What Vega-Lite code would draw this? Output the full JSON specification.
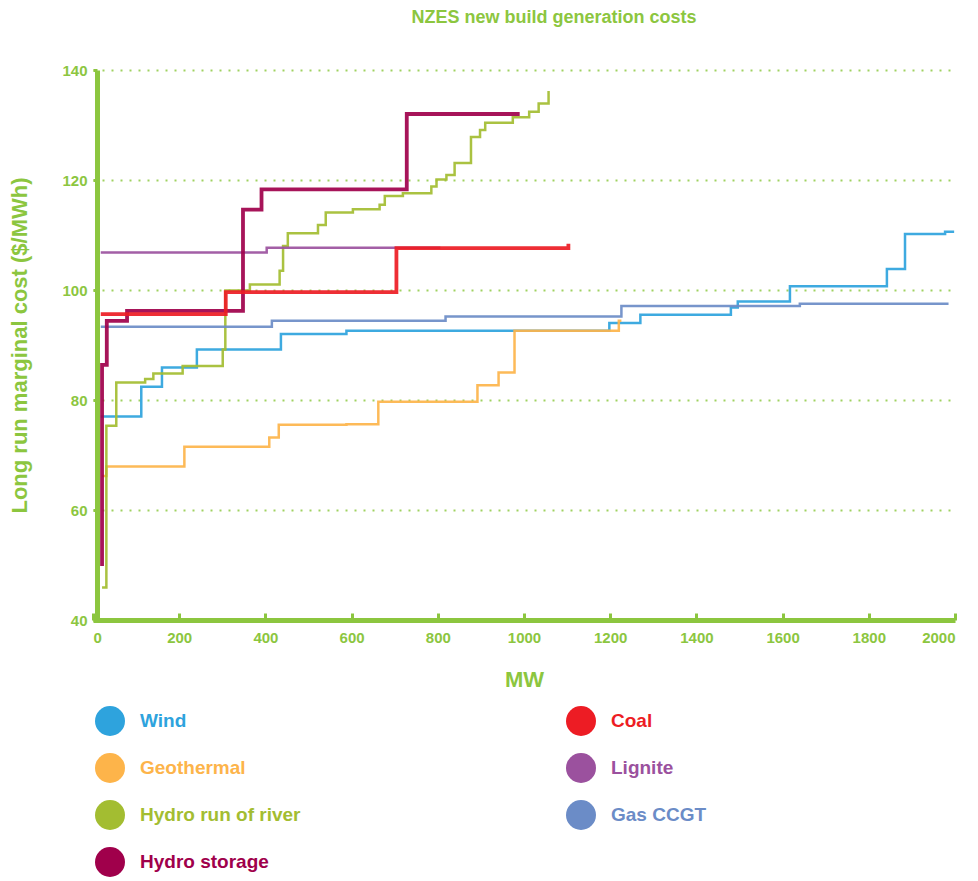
{
  "$schema": "https://vega.github.io/schema/vega-lite/v6.json",
  "width": 862,
  "height": 550,
  "autosize": "none",
  "padding": {"left": 93, "top": 70, "right": 23, "bottom": 261},
  "background": "white",
  "title": {
    "text": "NZES new build generation costs",
    "font": "Liberation Sans",
    "fontSize": 18,
    "fontWeight": "bold",
    "color": "#8cc63f",
    "anchor": "middle",
    "dx": 30,
    "offset": 36
  },
  "config": {
    "view": {"stroke": null},
    "font": "Liberation Sans"
  },
  "data": {
    "values": [
      {"series": "Wind", "mw": 18, "cost": 77.0},
      {"series": "Wind", "mw": 112, "cost": 82.4},
      {"series": "Wind", "mw": 160, "cost": 85.9},
      {"series": "Wind", "mw": 241, "cost": 89.2},
      {"series": "Wind", "mw": 436, "cost": 92.0},
      {"series": "Wind", "mw": 588, "cost": 92.6},
      {"series": "Wind", "mw": 1198, "cost": 94.0},
      {"series": "Wind", "mw": 1270, "cost": 95.5},
      {"series": "Wind", "mw": 1480, "cost": 96.8},
      {"series": "Wind", "mw": 1496, "cost": 97.9},
      {"series": "Wind", "mw": 1617, "cost": 100.7},
      {"series": "Wind", "mw": 1842, "cost": 103.8},
      {"series": "Wind", "mw": 1884, "cost": 110.2},
      {"series": "Wind", "mw": 1977, "cost": 110.6},
      {"series": "Wind", "mw": 1998, "cost": 110.6},

      {"series": "Geothermal", "mw": 21, "cost": 66.2},
      {"series": "Geothermal", "mw": 31, "cost": 67.9},
      {"series": "Geothermal", "mw": 212, "cost": 71.5},
      {"series": "Geothermal", "mw": 409, "cost": 73.2},
      {"series": "Geothermal", "mw": 431, "cost": 75.5},
      {"series": "Geothermal", "mw": 588, "cost": 75.6},
      {"series": "Geothermal", "mw": 662, "cost": 79.7},
      {"series": "Geothermal", "mw": 892, "cost": 82.7},
      {"series": "Geothermal", "mw": 941, "cost": 85.0},
      {"series": "Geothermal", "mw": 978, "cost": 92.6},
      {"series": "Geothermal", "mw": 1220, "cost": 94.4},
      {"series": "Geothermal", "mw": 1226, "cost": 94.4},

      {"series": "Hydro run of river", "mw": 21, "cost": 45.9},
      {"series": "Hydro run of river", "mw": 31, "cost": 75.3},
      {"series": "Hydro run of river", "mw": 54, "cost": 83.2},
      {"series": "Hydro run of river", "mw": 121, "cost": 83.8},
      {"series": "Hydro run of river", "mw": 140, "cost": 84.8},
      {"series": "Hydro run of river", "mw": 208, "cost": 86.2},
      {"series": "Hydro run of river", "mw": 301, "cost": 89.2},
      {"series": "Hydro run of river", "mw": 307, "cost": 99.9},
      {"series": "Hydro run of river", "mw": 364, "cost": 101.0},
      {"series": "Hydro run of river", "mw": 433, "cost": 103.5},
      {"series": "Hydro run of river", "mw": 441, "cost": 108.0},
      {"series": "Hydro run of river", "mw": 452, "cost": 110.3},
      {"series": "Hydro run of river", "mw": 522, "cost": 111.8},
      {"series": "Hydro run of river", "mw": 540, "cost": 114.1},
      {"series": "Hydro run of river", "mw": 603, "cost": 114.7},
      {"series": "Hydro run of river", "mw": 665, "cost": 115.5},
      {"series": "Hydro run of river", "mw": 677, "cost": 117.1},
      {"series": "Hydro run of river", "mw": 719, "cost": 117.6},
      {"series": "Hydro run of river", "mw": 785, "cost": 118.8},
      {"series": "Hydro run of river", "mw": 797, "cost": 120.1},
      {"series": "Hydro run of river", "mw": 820, "cost": 120.9},
      {"series": "Hydro run of river", "mw": 839, "cost": 123.1},
      {"series": "Hydro run of river", "mw": 877, "cost": 127.8},
      {"series": "Hydro run of river", "mw": 898, "cost": 129.1},
      {"series": "Hydro run of river", "mw": 910, "cost": 130.4},
      {"series": "Hydro run of river", "mw": 974, "cost": 131.4},
      {"series": "Hydro run of river", "mw": 1012, "cost": 132.4},
      {"series": "Hydro run of river", "mw": 1034, "cost": 133.9},
      {"series": "Hydro run of river", "mw": 1057, "cost": 136.2},

      {"series": "Hydro storage", "mw": 21, "cost": 49.8},
      {"series": "Hydro storage", "mw": 21, "cost": 86.4},
      {"series": "Hydro storage", "mw": 32, "cost": 94.4},
      {"series": "Hydro storage", "mw": 79, "cost": 96.2},
      {"series": "Hydro storage", "mw": 348, "cost": 114.6},
      {"series": "Hydro storage", "mw": 391, "cost": 118.3},
      {"series": "Hydro storage", "mw": 728, "cost": 132.0},
      {"series": "Hydro storage", "mw": 990, "cost": 132.0},

      {"series": "Coal", "mw": 18, "cost": 95.6},
      {"series": "Coal", "mw": 308, "cost": 99.6},
      {"series": "Coal", "mw": 704, "cost": 107.6},
      {"series": "Coal", "mw": 1103, "cost": 108.4},

      {"series": "Lignite", "mw": 18, "cost": 106.8},
      {"series": "Lignite", "mw": 403, "cost": 107.7},
      {"series": "Lignite", "mw": 806, "cost": 107.7},

      {"series": "Gas CCGT", "mw": 18, "cost": 93.3},
      {"series": "Gas CCGT", "mw": 415, "cost": 94.4},
      {"series": "Gas CCGT", "mw": 818, "cost": 95.2},
      {"series": "Gas CCGT", "mw": 1226, "cost": 97.1},
      {"series": "Gas CCGT", "mw": 1640, "cost": 97.5},
      {"series": "Gas CCGT", "mw": 1985, "cost": 97.5}
    ]
  },
  "encoding": {
    "x": {
      "field": "mw",
      "type": "quantitative",
      "scale": {"domain": [0, 2000], "nice": false, "zero": false},
      "axis": {
        "title": "MW",
        "format": "d",
        "values": [0, 200, 400, 600, 800, 1000, 1200, 1400, 1600, 1800, 2000],
        "grid": false,
        "domainColor": "#8cc63f",
        "domainWidth": 5,
        "tickColor": "#8cc63f",
        "tickWidth": 3,
        "tickSize": -7,
        "labelColor": "#8cc63f",
        "labelFont": "Liberation Sans",
        "labelFontSize": 15,
        "labelFontWeight": "bold",
        "labelPadding": 17,
        "titleColor": "#8cc63f",
        "titleFont": "Liberation Sans",
        "titleFontSize": 22,
        "titleFontWeight": "bold",
        "titlePadding": 24
      }
    },
    "y": {
      "field": "cost",
      "type": "quantitative",
      "scale": {"domain": [40, 140], "nice": false, "zero": false},
      "axis": {
        "title": "Long run marginal cost ($/MWh)",
        "values": [40, 60, 80, 100, 120, 140],
        "offset": -4,
        "grid": true,
        "gridColor": "#9fd160",
        "gridWidth": 2,
        "gridDash": [2, 7],
        "domainColor": "#8cc63f",
        "domainWidth": 5,
        "tickColor": "#8cc63f",
        "tickWidth": 3,
        "tickSize": 4,
        "labelColor": "#8cc63f",
        "labelFont": "Liberation Sans",
        "labelFontSize": 15,
        "labelFontWeight": "bold",
        "labelPadding": 6,
        "titleColor": "#8cc63f",
        "titleFont": "Liberation Sans",
        "titleFontSize": 22,
        "titleFontWeight": "bold",
        "titlePadding": 30
      }
    },
    "color": {
      "field": "series",
      "type": "nominal",
      "scale": {
        "domain": ["Wind", "Geothermal", "Hydro run of river", "Hydro storage", "Coal", "Lignite", "Gas CCGT"],
        "range": ["#2ea3dd", "#fdb44a", "#a3bd31", "#a0004b", "#ed1c24", "#9b519e", "#6b8cc7"]
      },
      "legend": {
        "orient": "none",
        "legendX": 2,
        "legendY": 636,
        "columns": 2,
        "columnPadding": 265,
        "rowPadding": 17,
        "padding": 0,
        "title": null,
        "symbolType": "circle",
        "symbolSize": 900,
        "symbolStrokeWidth": 0,
        "symbolOpacity": 1,
        "symbolFillColor": {"expr": "scale('color', datum.value)"},
        "labelColor": {"expr": "scale('color', datum.value)"},
        "labelFont": "Liberation Sans",
        "labelFontSize": 19,
        "labelFontWeight": "bold",
        "labelOffset": 15,
        "labelLimit": 300
      }
    }
  },
  "layer": [
    {
      "transform": [{"filter": "datum.series != 'Hydro storage' && datum.series != 'Coal'"}],
      "mark": {"type": "line", "interpolate": "step-after", "opacity": 0.92, "strokeCap": "butt", "strokeWidth": 2.5}
    },
    {
      "transform": [{"filter": "datum.series == 'Hydro storage' || datum.series == 'Coal'"}],
      "mark": {"type": "line", "interpolate": "step-after", "opacity": 0.92, "strokeCap": "butt", "strokeWidth": 3.8}
    }
  ]
}
